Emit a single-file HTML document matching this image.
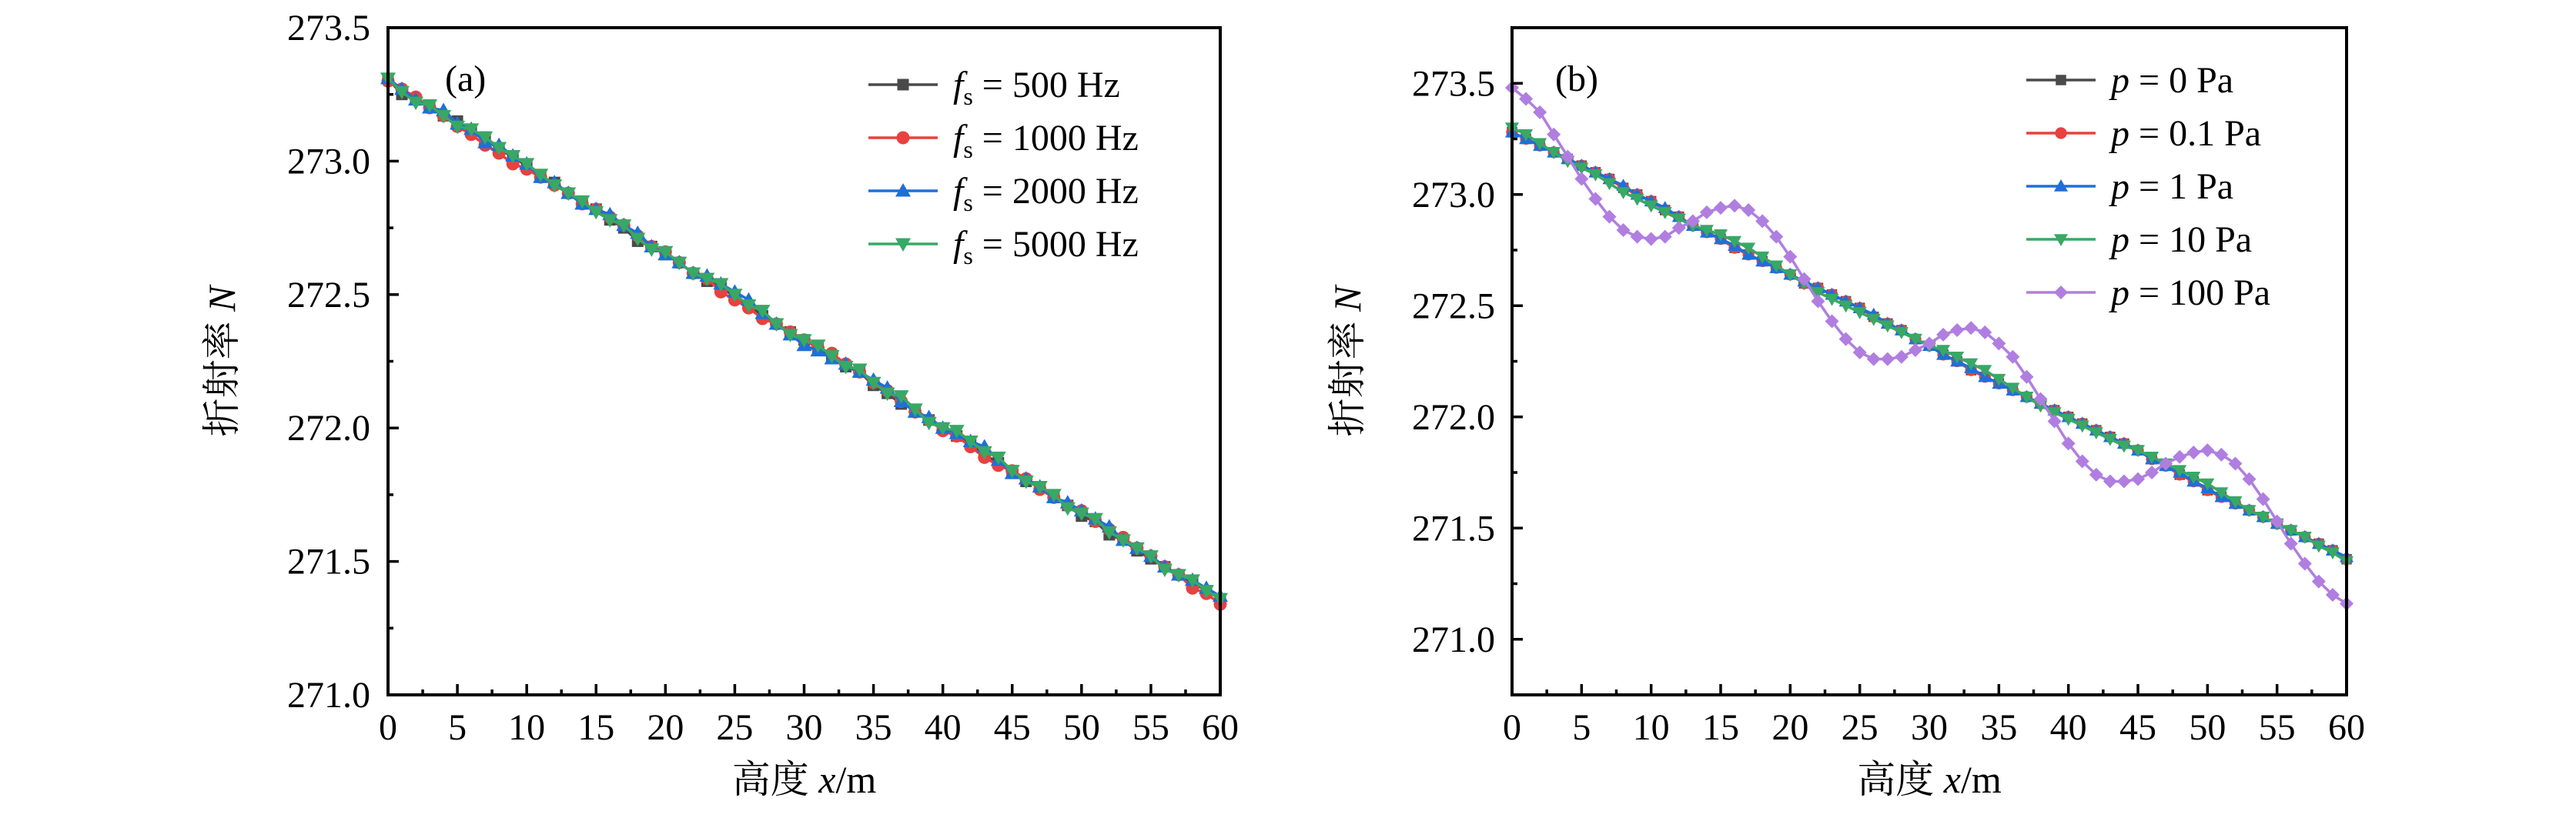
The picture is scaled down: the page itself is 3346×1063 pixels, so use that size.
<!DOCTYPE html>
<html><head><meta charset="utf-8"><style>
html,body{margin:0;padding:0;background:#fff;}
svg{display:block;font-family:"Liberation Serif","Noto Serif CJK SC",serif;}
svg text{font-family:"Liberation Serif","Noto Serif CJK SC",serif !important;fill:#000;}
</style></head><body>
<svg id="fig" width="3346" height="1063" viewBox="0 0 3346 1063" xmlns="http://www.w3.org/2000/svg" font-family="'Liberation Serif','Noto Serif CJK SC',serif"></svg>
<script>
const xCats = [];
for (let i = 0; i <= 60; i++) xCats.push(i);
const xTicks = [0,5,10,15,20,25,30,35,40,45,50,55,60];
const yTicksA = ["271.0","271.5","272.0","272.5","273.0","273.5"];
const yTicksB = ["271.0","271.5","272.0","272.5","273.0","273.5"];
const legendA = ["500 Hz","1000 Hz","2000 Hz","5000 Hz"];
const legendB = ["0 Pa","0.1 Pa","1 Pa","10 Pa","100 Pa"];

const A500 = [273.31,273.25,273.23,273.21,273.17,273.15,273.11,273.09,273.04,273.02,272.98,272.94,272.92,272.88,272.84,272.82,272.78,272.75,272.70,272.68,272.65,272.62,272.58,272.55,272.53,272.49,272.46,272.42,272.39,272.36,272.33,272.30,272.27,272.23,272.21,272.16,272.13,272.09,272.07,272.03,272.00,271.97,271.94,271.90,271.87,271.84,271.80,271.78,271.74,271.71,271.67,271.65,271.60,271.58,271.54,271.51,271.48,271.45,271.42,271.39,271.36];
const A1000 = [273.30,273.27,273.24,273.20,273.17,273.13,273.10,273.06,273.03,272.99,272.97,272.94,272.91,272.88,272.84,272.82,272.79,272.76,272.72,272.68,272.66,272.62,272.58,272.56,272.51,272.48,272.45,272.41,272.39,272.36,272.33,272.30,272.28,272.24,272.21,272.17,272.14,272.10,272.06,272.03,271.99,271.97,271.93,271.89,271.86,271.84,271.81,271.77,271.74,271.71,271.69,271.65,271.62,271.59,271.55,271.52,271.48,271.45,271.40,271.38,271.34];
const A2000 = [273.31,273.27,273.23,273.20,273.19,273.14,273.12,273.07,273.06,273.02,272.99,272.94,272.92,272.88,272.84,272.82,272.80,272.76,272.73,272.68,272.65,272.62,272.58,272.57,272.54,272.51,272.48,272.43,272.39,272.35,272.31,272.29,272.26,272.24,272.21,272.18,272.15,272.10,272.06,272.04,272.00,271.98,271.95,271.93,271.88,271.83,271.81,271.78,271.74,271.72,271.69,271.66,271.63,271.58,271.55,271.52,271.48,271.45,271.43,271.40,271.37];
const A5000 = [273.31,273.26,273.22,273.21,273.17,273.13,273.12,273.09,273.05,273.02,272.99,272.95,272.91,272.88,272.85,272.81,272.78,272.76,272.71,272.67,272.66,272.62,272.58,272.56,272.54,272.50,272.46,272.44,272.39,272.35,272.33,272.31,272.27,272.23,272.22,272.17,272.13,272.12,272.07,272.02,272.00,271.99,271.95,271.91,271.89,271.84,271.80,271.78,271.75,271.70,271.68,271.66,271.61,271.58,271.55,271.52,271.47,271.45,271.43,271.39,271.36];

const P0 = [273.28,273.25,273.22,273.19,273.16,273.13,273.10,273.07,273.03,273.00,272.97,272.93,272.90,272.86,272.83,272.80,272.76,272.73,272.70,272.67,272.64,272.60,272.58,272.55,272.52,272.49,272.45,272.42,272.39,272.35,272.32,272.28,272.25,272.21,272.18,272.15,272.12,272.09,272.06,272.03,272.00,271.97,271.94,271.91,271.88,271.85,271.81,271.78,271.74,271.71,271.67,271.64,271.61,271.58,271.55,271.52,271.49,271.46,271.43,271.40,271.36];
const P01 = [273.28,273.25,273.22,273.19,273.16,273.13,273.10,273.07,273.03,273.00,272.97,272.93,272.90,272.86,272.83,272.80,272.76,272.73,272.70,272.67,272.64,272.60,272.58,272.55,272.52,272.49,272.45,272.42,272.39,272.35,272.32,272.28,272.25,272.21,272.18,272.15,272.12,272.09,272.06,272.03,272.00,271.97,271.94,271.91,271.88,271.85,271.81,271.78,271.74,271.71,271.67,271.64,271.61,271.58,271.55,271.52,271.49,271.46,271.43,271.40,271.36];
const P1 = [273.28,273.25,273.22,273.19,273.16,273.13,273.10,273.07,273.04,273.00,272.97,272.94,272.90,272.86,272.83,272.80,272.77,272.73,272.70,272.67,272.64,272.61,272.58,272.55,272.52,272.49,272.46,272.42,272.39,272.35,272.32,272.28,272.25,272.22,272.18,272.15,272.12,272.09,272.06,272.03,272.00,271.97,271.94,271.91,271.88,271.85,271.81,271.78,271.75,271.71,271.68,271.64,271.61,271.58,271.55,271.52,271.49,271.46,271.43,271.40,271.37];
const P10 = [273.30,273.27,273.23,273.19,273.15,273.12,273.09,273.05,273.01,272.98,272.95,272.92,272.89,272.86,272.84,272.82,272.79,272.76,272.72,272.68,272.64,272.60,272.56,272.53,272.50,272.47,272.44,272.41,272.38,272.35,272.32,272.30,272.27,272.24,272.21,272.17,272.13,272.09,272.05,272.02,271.99,271.96,271.93,271.90,271.87,271.85,271.82,271.79,271.76,271.73,271.70,271.66,271.62,271.58,271.55,271.52,271.49,271.46,271.42,271.39,271.35];
const P100 = [273.48,273.43,273.37,273.27,273.17,273.07,272.98,272.90,272.84,272.81,272.80,272.81,272.85,272.88,272.92,272.94,272.95,272.93,272.88,272.81,272.72,272.62,272.52,272.43,272.35,272.29,272.26,272.26,272.27,272.30,272.33,272.37,272.39,272.40,272.38,272.33,272.27,272.18,272.08,271.98,271.88,271.80,271.74,271.71,271.71,271.72,271.75,271.79,271.82,271.84,271.85,271.83,271.79,271.72,271.63,271.53,271.43,271.34,271.26,271.20,271.16];

const NS = "http://www.w3.org/2000/svg";
const svg = document.getElementById('fig');
const FONT = "'Liberation Serif','Noto Serif CJK SC',serif";
function mk(tag, attrs, parent) {
  const e = document.createElementNS(NS, tag);
  for (const k in attrs) e.setAttribute(k, attrs[k]);
  if (tag === 'text') e.setAttribute('font-family', FONT);
  (parent || svg).appendChild(e);
  return e;
}
const COL = {gray:"#4a4a4a", red:"#e8413f", blue:"#1f6fd8", green:"#38a865", purple:"#b07ee0"};

function marker(g, shape, cx, cy, col, s) {
  let e;
  if (shape === 'square') e = mk('rect', {x:cx-s*0.75, y:cy-s*0.75, width:s*1.5, height:s*1.5, fill:col}, g);
  else if (shape === 'circle') e = mk('circle', {cx:cx, cy:cy, r:s*0.85, fill:col}, g);
  else if (shape === 'up') e = mk('polygon', {points:`${cx},${cy-s} ${cx-s},${cy+s*0.75} ${cx+s},${cy+s*0.75}`, fill:col}, g);
  else if (shape === 'down') e = mk('polygon', {points:`${cx},${cy+s} ${cx-s},${cy-s*0.75} ${cx+s},${cy-s*0.75}`, fill:col}, g);
  else e = mk('polygon', {points:`${cx},${cy-s} ${cx+s},${cy} ${cx},${cy+s} ${cx-s},${cy}`, fill:col}, g);
  
  
}

function panel(cfg) {
  const {L, R, T, B, ymin, ymax, yTicks, series, tag, legendLabels, legPrefix, legTextX, legLineX1, legLineX2, legRows, msize, yLabX, tickLabR} = cfg;
  const g = mk('g', {});
  
  
  const xs = v => L + (v - 0) / 60 * (R - L);
  const ys = v => B - (v - ymin) / (ymax - ymin) * (B - T);
  series.forEach((s, si) => {
    const sg = mk('g', {}, g);
    
    
    const pts = s.data.map((v, i) => xs(xCats[i]).toFixed(1) + ',' + ys(v).toFixed(1)).join(' ');
    const pl = mk('polyline', {points:pts, fill:'none', stroke:s.col, 'stroke-width':3.5, 'stroke-linejoin':'round'}, sg);
    
    
    s.data.forEach((v, i) => marker(sg, s.shape, xs(xCats[i]), ys(v), s.col, msize));
  });
  const fr = mk('rect', {x:L, y:T, width:R-L, height:B-T, fill:'none', stroke:'#000', 'stroke-width':4}, g);
  
  
  for (let v = 0; v <= 60; v += 2.5) {
    const major = (v % 5 === 0);
    const x = xs(v);
    mk('line', {x1:x, y1:B, x2:x, y2:B-(major?14:7), stroke:'#000', 'stroke-width':3.5}, g);
  }
  xTicks.forEach(v => {
    const t = mk('text', {x:xs(v), y:B+58, 'font-size':48, 'text-anchor':'middle'}, g);
    t.textContent = v;
    
    
  });
  const step = 0.25;
  for (let v = Math.ceil(ymin/step)*step; v <= ymax + 1e-6; v += step) {
    const y = ys(v);
    const major = Math.abs(v*2 - Math.round(v*2)) < 1e-6;
    mk('line', {x1:L, y1:y, x2:L+(major?14:7), y2:y, stroke:'#000', 'stroke-width':3.5}, g);
  }
  yTicks.forEach(lbl => {
    const t = mk('text', {x:tickLabR, y:ys(parseFloat(lbl))+16, 'font-size':48, 'text-anchor':'end'}, g);
    t.textContent = lbl;
    
    
  });
  const pt = mk('text', {x:cfg.tagX, y:118, 'font-size':48}, g);
  pt.textContent = tag;
  
  
  const xt = mk('text', {x:(L+R)/2, y:1030, 'font-size':50, 'text-anchor':'middle'}, g);
  xt.innerHTML = '高度 <tspan font-style="italic">x</tspan>/m';
  
  
  const yt = mk('text', {x:0, y:0, 'font-size':50, 'text-anchor':'middle', transform:`translate(${yLabX},${(T+B)/2}) rotate(-90)`}, g);
  yt.innerHTML = '折射率 <tspan font-style="italic">N</tspan>';
  
  
  const lg = mk('g', {}, g);
  
  
  series.forEach((s, i) => {
    const y = legRows[i];
    const eg = mk('g', {}, lg);
    
    
    mk('line', {x1:legLineX1, y1:y, x2:legLineX2, y2:y, stroke:s.col, 'stroke-width':3.5}, eg);
    marker(eg, s.shape, (legLineX1+legLineX2)/2, y, s.col, msize);
    const t = mk('text', {x:legTextX, y:y+16, 'font-size':48}, eg);
    if (legPrefix === 'fs') t.innerHTML = '<tspan font-style="italic">f</tspan><tspan font-size="32" dy="10">s</tspan><tspan dy="-10"> = ' + legendLabels[i] + '</tspan>';
    else t.innerHTML = '<tspan font-style="italic">p</tspan> = ' + legendLabels[i];
  });
}

panel({
  name:'panel-a', L:504, R:1585, T:36, B:903, ymin:271.0, ymax:273.5, yTicks:yTicksA, tag:'(a)', tagX:578,
  series:[
    {key:'fs-500', data:A500, col:COL.gray, shape:'square'},
    {key:'fs-1000', data:A1000, col:COL.red, shape:'circle'},
    {key:'fs-2000', data:A2000, col:COL.blue, shape:'up'},
    {key:'fs-5000', data:A5000, col:COL.green, shape:'down'}
  ],
  legendLabels:legendA, legPrefix:'fs', legLineX1:1128, legLineX2:1218, legTextX:1238,
  legRows:[110,179,248,317], msize:10, yLabX:305, tickLabR:481
});
panel({
  name:'panel-b', L:1964, R:3048, T:36, B:903, ymin:270.75, ymax:273.75, yTicks:yTicksB, tag:'(b)', tagX:2020,
  series:[
    {key:'p-0', data:P0, col:COL.gray, shape:'square'},
    {key:'p-0.1', data:P01, col:COL.red, shape:'circle'},
    {key:'p-1', data:P1, col:COL.blue, shape:'up'},
    {key:'p-10', data:P10, col:COL.green, shape:'down'},
    {key:'p-100', data:P100, col:COL.purple, shape:'diamond'}
  ],
  legendLabels:legendB, legPrefix:'p', legLineX1:2632, legLineX2:2722, legTextX:2742,
  legRows:[104,173,242,311,380], msize:9, yLabX:1767, tickLabR:1942
});
</script>
</body></html>
